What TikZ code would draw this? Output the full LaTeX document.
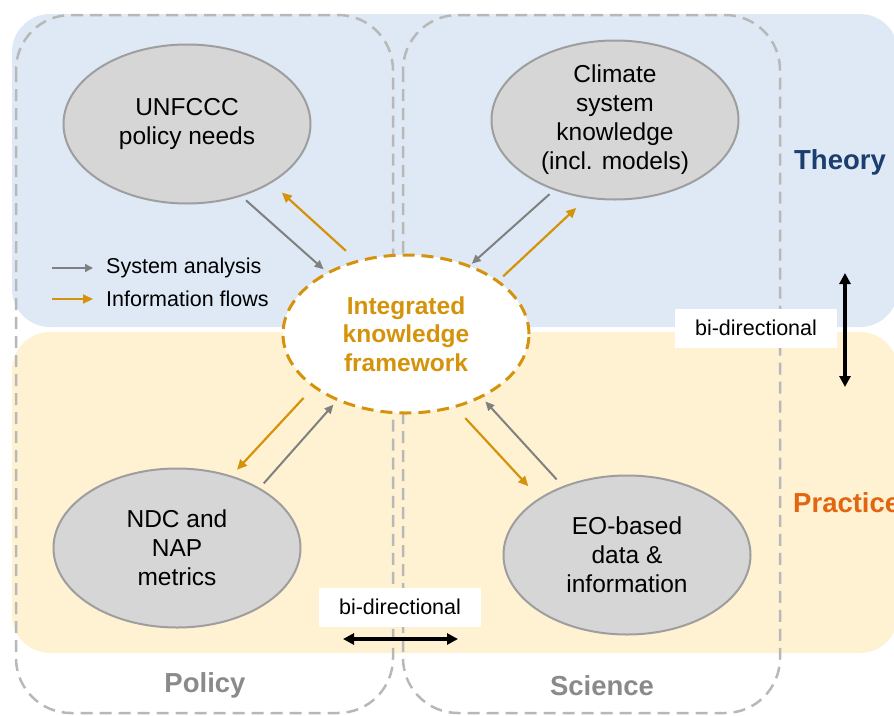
\documentclass[tikz,border=0pt]{standalone}
\usepackage{fontspec}
\setmainfont{Liberation Sans}
\usetikzlibrary{arrows.meta,shapes.geometric}

\definecolor{theoryband}{HTML}{DEE9F5}
\definecolor{practiceband}{HTML}{FFF2D3}
\definecolor{flowgold}{HTML}{D4930A}
\definecolor{sysgray}{HTML}{808080}
\definecolor{colgray}{HTML}{B8B8B8}
\definecolor{ellfill}{HTML}{D6D6D6}
\definecolor{elledge}{HTML}{9E9E9E}
\definecolor{theorynavy}{HTML}{1B3E6F}
\definecolor{practiceorange}{HTML}{E2650F}
\definecolor{labelgray}{HTML}{8A8A8A}

\begin{document}
\begin{tikzpicture}[x=1pt, y=-1pt,
    topic/.style={ellipse, draw=elledge, fill=ellfill, line width=2pt,
        minimum width=247pt, minimum height=159pt, inner sep=0pt,
        align=center, font=\fontsize{24.5}{29}\selectfont},
    hub/.style={ellipse, draw=flowgold, fill=white, line width=3pt,
        dash pattern=on 12pt off 7pt, minimum width=246pt, minimum height=158pt,
        inner sep=0pt, align=center, text=flowgold,
        font=\fontsize{24.5}{28.5}\selectfont\bfseries},
    column/.style={draw=colgray, line width=2.5pt, dash pattern=on 12pt off 7pt,
        rounded corners=55pt},
    sysflow/.style={draw=sysgray, line width=2pt,
        -{Triangle[length=9pt,width=8pt]}},
    infoflow/.style={draw=flowgold, line width=2.2pt,
        -{Triangle[length=10pt,width=9pt]}},
    bidir/.style={line width=3.5pt, {Triangle[length=11pt,width=11pt]}-{Triangle[length=11pt,width=11pt]}},
    bibox/.style={fill=white, minimum width=162pt, minimum height=39pt, inner sep=0pt,
        font=\fontsize{21.5}{24}\selectfont},
    legendtext/.style={anchor=west, inner sep=0pt, font=\fontsize{21.5}{24}\selectfont},
    axislabel/.style={font=\fontsize{27.5}{30}\selectfont\bfseries}
]
    \useasboundingbox (0,0) rectangle (894,715);
    \begin{scope}
    \clip (0,0) rectangle (894,715);

    % bands
    \fill[theoryband, rounded corners=38pt] (12,14) rectangle (898,327);
    \fill[practiceband, rounded corners=38pt] (12,332) rectangle (898,653);

    % columns
    \draw[column] (16,15) rectangle (393,713);
    \draw[column] (403,15) rectangle (780,713);

    % ellipses
    \node[hub] (ikf) at (406,334) {Integrated\\knowledge\\framework};
    \node[topic] (unfccc) at (187,124) {UNFCCC\\policy needs};
    \node[topic] (climate) at (615,120) {Climate\\system\\knowledge\\(incl. models)};
    \node[topic] (ndc) at (177,548) {NDC and\\NAP\\metrics};
    \node[topic] (eo) at (627,555) {EO-based\\data \&\\information};

    % flows
    \draw[sysflow, shorten <=6pt, shorten >=4pt] (unfccc.-53) -- (ikf.142);
    \draw[infoflow, shorten <=14pt, shorten >=14pt] (ikf.124) -- (unfccc.-35);
    \draw[sysflow, shorten <=6pt, shorten >=2pt] (climate.-131) -- (ikf.47);
    \draw[infoflow, shorten <=6pt, shorten >=14pt] (ikf.30) -- (climate.-110);
    \draw[infoflow, shorten <=14pt, shorten >=8pt] (ikf.-150) -- (ndc.53);
    \draw[sysflow, shorten <=6pt, shorten >=5pt] (ndc.36) -- (ikf.-136);
    \draw[infoflow, shorten <=14pt, shorten >=16pt] (ikf.-56) -- (eo.147);
    \draw[sysflow, shorten <=9pt, shorten >=5pt] (eo.133) -- (ikf.-40);

    % legend
    \node[legendtext] (syslabel) at (106,268) {System analysis};
    \node[legendtext] (infolabel) at (106,299) {Information flows};
    \coordinate (sysstart) at (52,268);
    \coordinate (infostart) at (52,299);
    \draw[draw=sysgray, line width=1.5pt, -{Triangle[length=8pt,width=8pt]},
        shorten >=13pt] (sysstart) -- (syslabel.west);
    \draw[infoflow, shorten >=13pt] (infostart) -- (infolabel.west);

    % bi-directional
    \node[bibox] (bivert) at (756,328) {bi-directional};
    \node[bibox] (bihorz) at (400,607) {bi-directional};
    \coordinate (theorytip) at (845,273);
    \coordinate (practicetip) at (845,387);
    \coordinate (policytip) at (343,639);
    \coordinate (sciencetip) at (458,639);
    \draw[bidir] (theorytip) -- (practicetip);
    \draw[bidir] (policytip) -- (sciencetip);

    % labels
    \node[axislabel, text=theorynavy] (theory) at (840,162) {Theory};
    \node[axislabel, text=practiceorange, anchor=west, inner sep=0pt] (practice) at (793,503) {Practice};
    \node[axislabel, text=labelgray] (policy) at (205,685) {Policy};
    \node[axislabel, text=labelgray] (science) at (602,686) {Science};
    \end{scope}
\end{tikzpicture}
\end{document}
